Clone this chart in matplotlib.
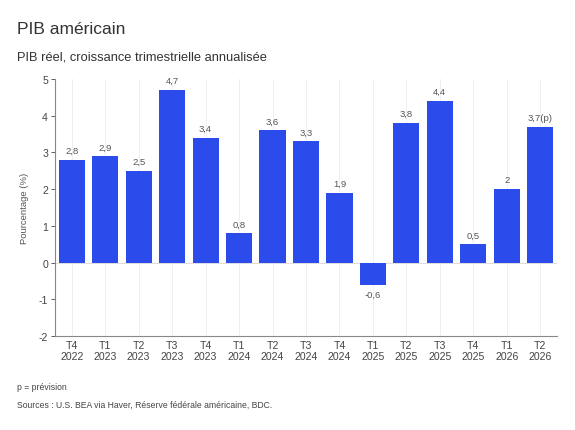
import matplotlib
matplotlib.use("Agg")
import matplotlib.pyplot as plt
import numpy as np

plt.rcParams['font.family'] = ['Liberation Sans', 'DejaVu Sans']

quarters = ["T4\n2022", "T1\n2023", "T2\n2023", "T3\n2023", "T4\n2023",
            "T1\n2024", "T2\n2024", "T3\n2024", "T4\n2024", "T1\n2025",
            "T2\n2025", "T3\n2025", "T4\n2025", "T1\n2026", "T2\n2026"]
growth = [2.8, 2.9, 2.5, 4.7, 3.4, 0.8, 3.6, 3.3, 1.9, -0.6, 3.8, 4.4, 0.5, 2.0, 3.7]
value_labels = ["2,8", "2,9", "2,5", "4,7", "3,4", "0,8", "3,6", "3,3", "1,9",
                "-0,6", "3,8", "4,4", "0,5", "2", "3,7(p)"]
yticks = [-2, -1, 0, 1, 2, 3, 4, 5]

fig = plt.figure(figsize=(5.75, 4.31), dpi=100)
ax = fig.add_axes([55 / 575, 1 - 337 / 431, 502 / 575, 257 / 431])

x = np.arange(len(growth))
ax.bar(x, growth, width=0.78, color="#2B4CEB", zorder=3)
for xi in x:
    ax.axvline(xi, color="#ececec", lw=0.6, zorder=0)
ax.axhline(0, color="#dddddd", lw=0.8, zorder=2)

for xi, v, lab in zip(x, growth, value_labels):
    if v >= 0:
        ax.text(xi, v + 0.13, lab, ha="center", va="bottom", fontsize=6.8, color="#555555")
    else:
        ax.text(xi, v - 0.13, lab, ha="center", va="top", fontsize=6.8, color="#555555")

ax.set_xlim(-0.5, len(growth) - 0.5)
ax.set_ylim(-2, 5)
ax.set_yticks(yticks)
ax.set_yticklabels([str(t) for t in yticks])
ax.set_xticks(x)
ax.set_xticklabels(quarters, linespacing=1.15)
ax.tick_params(axis="both", labelsize=7.6, colors="#444444", length=3, width=0.6, pad=2)
ax.tick_params(axis="x", length=0, pad=3)

for side in ["top", "right"]:
    ax.spines[side].set_visible(False)
for side in ["left", "bottom"]:
    ax.spines[side].set_color("#888888")
    ax.spines[side].set_linewidth(0.8)

ax.set_ylabel("Pourcentage (%)", fontsize=6.8, color="#555555", labelpad=7)

fig.text(17 / 575, 1 - 30 / 431, "PIB américain", fontsize=12.5, color="#333333", va="center")
fig.text(17 / 575, 1 - 57 / 431, "PIB réel, croissance trimestrielle annualisée",
         fontsize=9.3, color="#333333", va="center")
fig.text(17 / 575, 1 - 388 / 431, "p = prévision", fontsize=6.2, color="#444444", va="center")
fig.text(17 / 575, 1 - 405 / 431, "Sources : U.S. BEA via Haver, Réserve fédérale américaine, BDC.",
         fontsize=6.2, color="#444444", va="center")

fig.savefig("out.png", dpi=100, facecolor="white")
